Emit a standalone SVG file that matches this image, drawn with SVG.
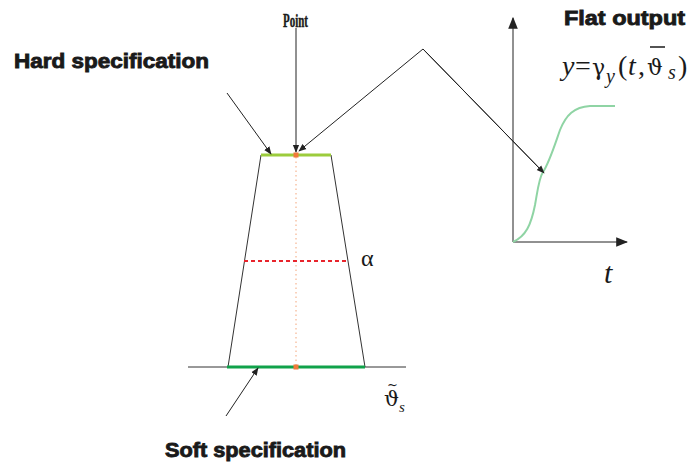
<svg xmlns="http://www.w3.org/2000/svg" width="688" height="462" viewBox="0 0 688 462">
<style>
.lbl{font-family:"Liberation Sans",Arial,sans-serif;font-weight:bold;fill:#1a1a1a;stroke:#1a1a1a;stroke-width:0.9}
.it{font-family:"Liberation Serif","Times New Roman",serif;font-style:italic}
.gr{font-family:"DejaVu Serif","Liberation Serif",serif;font-style:normal}
.rm{font-family:"Liberation Serif","Times New Roman",serif;font-style:normal}
.eq{fill:#1a1a1a;font-family:"Liberation Serif","Times New Roman",serif}
.ln{stroke:#222;stroke-width:1;fill:none}
</style>
<defs>
<marker id="ah" viewBox="0 0 10 10" refX="9" refY="5" markerWidth="8" markerHeight="8" markerUnits="userSpaceOnUse" orient="auto">
<path d="M0,1 L10,5 L0,9 z" fill="#222"/>
</marker>
<marker id="ax" viewBox="0 0 10 10" refX="9" refY="5" markerWidth="12" markerHeight="12" markerUnits="userSpaceOnUse" orient="auto">
<path d="M0,1 L10,5 L0,9 z" fill="#222"/>
</marker>
</defs>
<rect width="688" height="462" fill="#fff"/>

<g id="trapezoid">
<line x1="188" y1="367" x2="406" y2="367" stroke="#333" stroke-width="1"/>
<line x1="261" y1="155" x2="228" y2="367" stroke="#333" stroke-width="1"/>
<line x1="331" y1="155" x2="365" y2="367" stroke="#333" stroke-width="1"/>
<line x1="296" y1="157" x2="296" y2="365" stroke="#f4a57a" stroke-width="1" stroke-dasharray="1.5 3"/>
<line x1="244" y1="261" x2="347" y2="261" stroke="#e8242c" stroke-width="2" stroke-dasharray="4 3"/>
<line x1="261" y1="155" x2="331" y2="155" stroke="#9ccc3c" stroke-width="3"/>
<line x1="227" y1="367" x2="365" y2="367" stroke="#10a24a" stroke-width="3"/>
<rect x="293.5" y="152.5" width="5" height="5" fill="#f07a3a"/>
<rect x="293.5" y="364.5" width="5" height="5" fill="#f07a3a"/>
</g>

<g id="graph">
<line x1="513" y1="242" x2="513" y2="18" class="ln" marker-end="url(#ax)"/>
<line x1="513" y1="242" x2="627" y2="242" class="ln" marker-end="url(#ax)"/>
<path d="M513,242 C526,236 531,225 535,205 C538,188 539,178 543,172 C549,163 553,150 560,130 C566,115 574,107 590,106 L615,106" fill="none" stroke="#8fd4a4" stroke-width="2"/>
</g>

<g id="connectors">
<line x1="296" y1="28" x2="296" y2="152" class="ln" marker-end="url(#ah)"/>
<line x1="227" y1="93" x2="271" y2="154" class="ln" marker-end="url(#ah)"/>
<polyline points="544,173 423,49 299,151" class="ln" marker-end="url(#ah)"/>
<line x1="423" y1="49" x2="544" y2="173" class="ln" marker-end="url(#ah)"/>
<line x1="226" y1="416" x2="258" y2="368" class="ln" marker-end="url(#ah)"/>
</g>

<g id="labels">
<text class="lbl" x="14" y="68" font-size="21" textLength="195" lengthAdjust="spacingAndGlyphs">Hard specification</text>
<text class="lbl" x="165" y="457" font-size="21" textLength="181" lengthAdjust="spacingAndGlyphs">Soft specification</text>
<text class="lbl" x="564" y="25" font-size="21" textLength="121" lengthAdjust="spacingAndGlyphs">Flat output</text>
<text x="283" y="27" font-family="Liberation Serif,serif" font-weight="bold" font-size="18" textLength="25" lengthAdjust="spacingAndGlyphs" fill="#1a1a1a" stroke="#1a1a1a" stroke-width="0.4">Point</text>
<text class="eq gr" x="361" y="266" font-size="24">α</text>
<text class="eq it" x="604" y="283" font-size="30">t</text>
<text class="eq" font-size="21"><tspan class="gr" x="387" y="389" font-size="13">~</tspan><tspan class="gr" x="384" y="406">ϑ</tspan><tspan class="it" x="399" y="412" font-size="15">s</tspan></text>
<g id="formula">
<text class="eq" font-size="28"><tspan class="it" x="562" y="75">y</tspan><tspan class="rm" x="575" y="75">=</tspan><tspan class="gr" x="592" y="75" font-size="22" font-style="italic">γ</tspan><tspan class="it" x="606" y="83" font-size="20">y</tspan><tspan class="rm" x="618" y="75">(</tspan><tspan class="it" x="628" y="75">t</tspan><tspan class="rm" x="638" y="75">,</tspan><tspan class="gr" x="647" y="75" font-size="22">ϑ</tspan><tspan class="it" x="668" y="79" font-size="20">s</tspan><tspan class="rm" x="678" y="75">)</tspan></text>
<line x1="650" y1="47" x2="665" y2="47" stroke="#1a1a1a" stroke-width="1.5"/>
</g>
</g>
</svg>
